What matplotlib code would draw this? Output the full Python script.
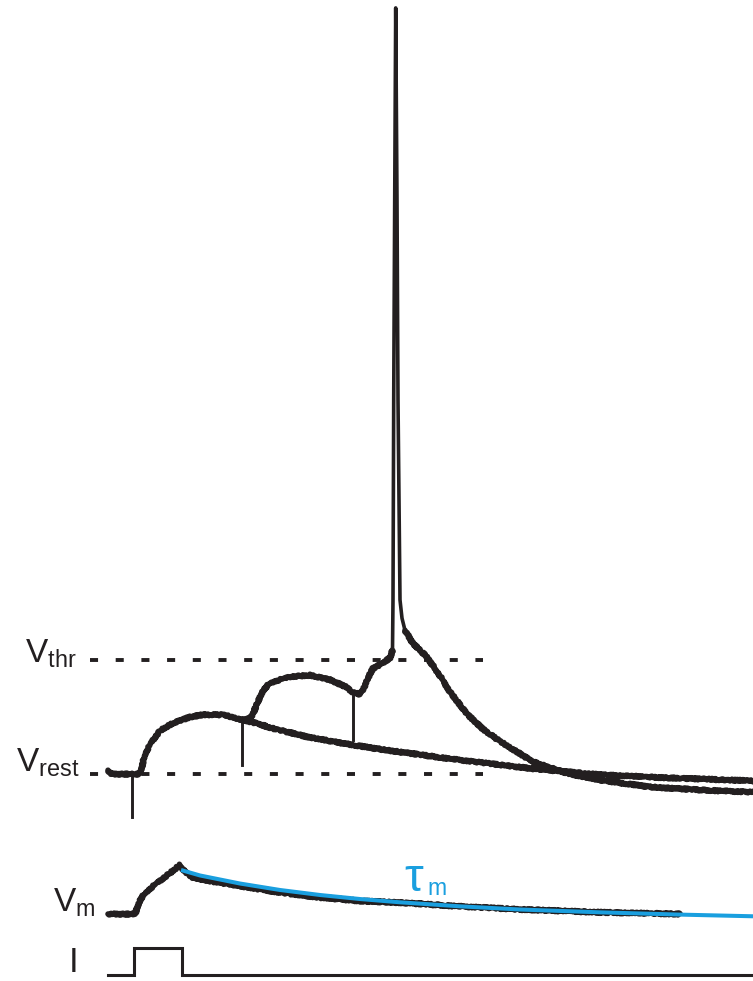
import matplotlib.pyplot as plt

plt.rcParams['font.family'] = ['Liberation Sans', 'DejaVu Sans']
plt.rcParams['mathtext.fontset'] = 'custom'
plt.rcParams['mathtext.rm'] = 'Liberation Sans'
plt.rcParams['mathtext.it'] = 'Liberation Sans'
plt.rcParams['lines.scale_dashes'] = False

# Membrane potential recordings: time in ms, voltage in mV
V_REST = -70.0
V_THR = -55.0

# one stimulus: subthreshold EPSP decaying back to rest
t_single = [0, 0.6, 4.6, 6.4, 7.4, 8.8, 10.4, 13, 16.4, 19, 23, 26.4, 29, 33,
            39.8, 46.4, 53, 58.4, 68.4, 78.4, 85, 98.4, 111.8, 129]
v_single = [-69.5, -70, -70, -70, -67.4, -65.7, -64.3, -63.3, -62.5, -62.2, -62.2, -62.8,
            -63.2, -64.0, -65.1, -65.9, -66.6, -67.1, -68.0, -68.8, -69.3, -70.1, -70.5, -70.9]

# three stimuli summating to threshold (leaves the single trace at the 2nd stimulus)
t_sum = [26.4, 27.4, 28.4, 29, 29.8, 30.4, 31, 32.4, 36.4, 40.4, 44.4, 47.8, 49, 50.4,
         51.2, 51.8, 53, 55, 56.4, 56.9]
v_sum = [-62.8, -62.9, -62.6, -62.1, -60.7, -59.9, -59.0, -58.0, -57.2, -57.0, -57.6,
         -58.6, -59.3, -59.5, -58.7, -57.6, -56.1, -55.4, -54.7, -53.7]

# action potential
t_spike = [56.9, 57.0, 57.14, 57.34, 57.54, 57.8, 58.0, 58.4, 58.8, 59.4]
v_spike = [-53.7, -47.1, -20.8, 5.5, 30.8, 5.5, -20.8, -47.1, -49.5, -51.1]

# afterpotential
t_after = [59.4, 61, 63.8, 66.4, 68.4, 71.8, 75, 78.4, 85, 91.8, 98.4, 108.4, 118.4, 129]
v_after = [-51.1, -52.8, -54.6, -57.1, -59.2, -62.1, -64.1, -65.7, -68.4, -69.9, -70.8,
           -71.7, -72.1, -72.4]

# stimulus artifacts
t_stim = [4.8, 26.8, 49.0]
v_stim_top = [-70.0, -62.9, -59.3]
v_stim_min = [-75.7, -68.8, -65.5]

# passive response to a current step, mV above rest
t_vm = [0, 5.4, 6.4, 7.4, 9.8, 12.4, 14.4, 15.2, 17, 20.4, 26.4, 34.4, 42.4, 50.4,
        58.4, 70.4, 82.4, 98.4, 114.4]
dv_vm = [0, 0, 1.84, 2.76, 4.08, 5.39, 6.45, 5.66, 4.8, 4.34, 3.68, 2.83, 2.17, 1.71,
         1.5, 1.0, 0.6, 0.22, 0.0]

# exponential fit of the decay (tau_m)
t_fit = [14.6, 18.4, 22.4, 26.4, 34.4, 42.4, 50.4, 58.4, 70.4, 82.4, 98.4, 114.4, 129]
dv_fit = [5.79, 5.07, 4.54, 4.01, 3.16, 2.5, 1.97, 1.54, 1.01, 0.59, 0.22, -0.08, -0.30]

# injected current step (nA)
t_cur = [0, 5.2, 5.2, 14.8, 14.8, 129]
i_cur = [0, 0, 1, 1, 0, 0]

INK = '#231f20'
BLUE = '#1a9fdf'

W, H = 753, 981
PX_MS = 5.0
T0_PX = 108
PX_MV = 7.6

fig = plt.figure(figsize=(W / 100, H / 100), dpi=100)


def overlay(base_px, base_val, px_per_unit):
    ax = fig.add_axes([0, 0, 1, 1])
    ax.set_xlim(-T0_PX / PX_MS, (W - T0_PX) / PX_MS)
    ax.set_ylim(base_val - (H - base_px) / px_per_unit, base_val + base_px / px_per_unit)
    ax.axis('off')
    ax.patch.set_alpha(0)
    return ax


ax_top = overlay(774, V_REST, PX_MV)
ax_vm = overlay(914, 0.0, PX_MV)
ax_i = overlay(975, 0.0, 27.0)

noisy = dict(color=INK, lw=4.0, solid_capstyle='round', solid_joinstyle='round')

# threshold and resting level
for level in (V_THR, V_REST):
    ax_top.plot([-3.7, 75.0], [level, level], color=INK, lw=2.8,
                dashes=(5.8, 12.7), dash_capstyle='butt', zorder=1)

for t, v0, v1 in zip(t_stim, v_stim_top, v_stim_min):
    ax_top.plot([t, t], [v0, v1], color=INK, lw=2.1, zorder=2)

lines = []
lines += ax_top.plot(t_single, v_single, zorder=3, **noisy)
lines += ax_top.plot(t_sum, v_sum, zorder=3, **noisy)
lines += ax_top.plot(t_after, v_after, zorder=3, **noisy)
ax_top.plot(t_spike, v_spike, color=INK, lw=2.6, solid_joinstyle='round', zorder=3)

lines += ax_vm.plot(t_vm, dv_vm, zorder=2, **noisy)
ax_vm.plot(t_fit, dv_fit, color=BLUE, lw=2.9, solid_capstyle='butt', zorder=3)

ax_i.plot(t_cur, i_cur, color=INK, lw=2.2, solid_joinstyle='miter')

for ln in lines:
    ln.set_sketch_params(1.0, 3.0, 2.0)


def label(x, y, s, size, color=INK, va='baseline'):
    fig.text(x / W, 1 - y / H, s, fontsize=size, color=color, va=va, ha='left')


label(25, 663, r'$\mathrm{V}_{\mathrm{thr}}$', 24)
label(16.5, 772, r'$\mathrm{V}_{\mathrm{rest}}$', 24)
label(53, 912, r'$\mathrm{V}_{\mathrm{m}}$', 24)
label(69, 979, 'I', 25, va='bottom')
label(404, 891, '\u03c4', 34, BLUE)
label(427, 895, 'm', 16.5, BLUE)

fig.savefig('out.png', dpi=100)
